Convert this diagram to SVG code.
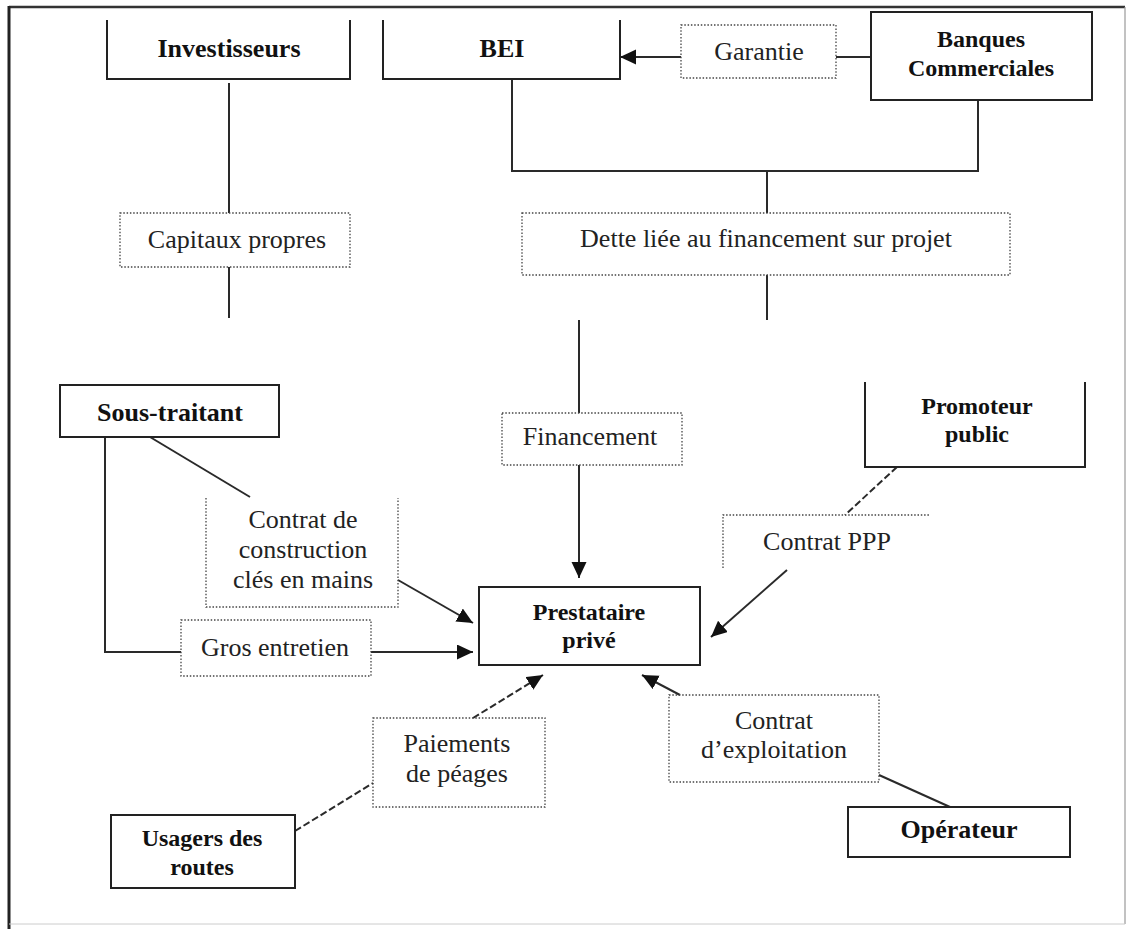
<svg xmlns="http://www.w3.org/2000/svg" width="1129" height="929" viewBox="0 0 1129 929">
<style>
.node{fill:none;stroke:#222;stroke-width:2}
.lbl{fill:none;stroke:#444;stroke-width:1.3;stroke-dasharray:1.5 1.8}
.ln{fill:none;stroke:#2a2a2a;stroke-width:2}
.dash{fill:none;stroke:#2a2a2a;stroke-width:2;stroke-dasharray:7 3}
.tb{font-family:"Liberation Serif","Times New Roman",serif;font-weight:bold;font-size:26px;fill:#111;text-anchor:middle}
.tb2{font-family:"Liberation Serif","Times New Roman",serif;font-weight:bold;font-size:24px;fill:#111;text-anchor:middle}
.tr{font-family:"Liberation Serif","Times New Roman",serif;font-size:26px;fill:#222;text-anchor:middle}
</style>
<defs>
<marker id="ah" markerUnits="userSpaceOnUse" markerWidth="18" markerHeight="16" refX="16" refY="7.5" orient="auto">
<path d="M0,0 L16,7.5 L0,15 z" fill="#111"/>
</marker>
</defs>
<rect x="0" y="0" width="1129" height="929" fill="#fff"/>
<g id="frame">
<line x1="9" y1="7" x2="1125" y2="7" stroke="#333" stroke-width="2.5"/>
<line x1="9" y1="6" x2="9" y2="929" stroke="#222" stroke-width="3"/>
<line x1="1125" y1="7" x2="1125" y2="924" stroke="#999" stroke-width="1.2"/>
<line x1="9" y1="924" x2="1125" y2="924" stroke="#ccc" stroke-width="1"/>
</g>
<g id="connectors">
<line class="ln" x1="229" y1="83" x2="229" y2="213"/>
<line class="ln" x1="229" y1="267" x2="229" y2="318"/>
<polyline class="ln" points="512,79 512,171 978,171 978,100"/>
<line class="ln" x1="767" y1="171" x2="767" y2="213"/>
<line class="ln" x1="767" y1="275" x2="767" y2="320"/>
<line class="ln" x1="836" y1="57" x2="871" y2="57"/>
<line class="ln" x1="681" y1="57" x2="620" y2="57" marker-end="url(#ah)"/>
<line class="ln" x1="579" y1="320" x2="579" y2="413"/>
<line class="ln" x1="579" y1="465" x2="579" y2="578" marker-end="url(#ah)"/>
<polyline class="ln" points="105,437 105,652 181,652"/>
<line class="ln" x1="371" y1="652" x2="473" y2="652" marker-end="url(#ah)"/>
<line class="ln" x1="150" y1="437" x2="250" y2="497"/>
<line class="ln" x1="398" y1="580" x2="473" y2="623" marker-end="url(#ah)"/>
<line class="dash" x1="897" y1="467" x2="845" y2="515"/>
<line class="ln" x1="787" y1="570" x2="711" y2="637" marker-end="url(#ah)"/>
<line class="dash" x1="295" y1="831" x2="373" y2="783"/>
<line class="dash" x1="473" y1="718" x2="543" y2="675" marker-end="url(#ah)"/>
<line class="ln" x1="950" y1="807" x2="879" y2="775"/>
<line class="ln" x1="680" y1="695" x2="642" y2="675" marker-end="url(#ah)"/>
</g>
<g id="investisseurs">
<path class="node" d="M107,20 V79 H350 V20"/>
<text class="tb" x="229" y="57">Investisseurs</text>
</g>
<g id="bei">
<path class="node" d="M383,20 V79 H620 V20"/>
<text class="tb" x="502" y="57">BEI</text>
</g>
<g id="garantie">
<rect class="lbl" x="681" y="25" width="155" height="53"/>
<text class="tr" x="759" y="60">Garantie</text>
</g>
<g id="banques">
<rect class="node" x="871" y="12" width="221" height="88"/>
<text class="tb2" x="981" y="47">Banques</text>
<text class="tb2" x="981" y="76">Commerciales</text>
</g>
<g id="capitaux">
<rect class="lbl" x="120" y="213" width="230" height="54"/>
<text class="tr" x="237" y="248">Capitaux propres</text>
</g>
<g id="dette">
<rect class="lbl" x="522" y="213" width="488" height="62"/>
<text class="tr" x="766" y="247">Dette liée au financement sur projet</text>
</g>
<g id="financement">
<rect class="lbl" x="502" y="413" width="180" height="52"/>
<text class="tr" x="590" y="445">Financement</text>
</g>
<g id="sous-traitant">
<rect class="node" x="60" y="385" width="219" height="52"/>
<text class="tb" x="170" y="421">Sous-traitant</text>
</g>
<g id="promoteur">
<path class="node" d="M865,382 V467 H1085 V382"/>
<text class="tb2" x="977" y="414">Promoteur</text>
<text class="tb2" x="977" y="442">public</text>
</g>
<g id="contrat-construction">
<path class="lbl" d="M206,498 V607 H398 V498"/>
<text class="tr" x="303" y="528">Contrat de</text>
<text class="tr" x="303" y="558">construction</text>
<text class="tr" x="303" y="588">clés en mains</text>
</g>
<g id="contrat-ppp">
<path class="lbl" d="M723,568 V515 H930"/>
<text class="tr" x="827" y="550">Contrat PPP</text>
</g>
<g id="gros-entretien">
<rect class="lbl" x="181" y="620" width="190" height="56"/>
<text class="tr" x="275" y="656">Gros entretien</text>
</g>
<g id="prestataire">
<rect class="node" x="479" y="587" width="221" height="78"/>
<text class="tb2" x="589" y="620">Prestataire</text>
<text class="tb2" x="589" y="648">privé</text>
</g>
<g id="paiements">
<rect class="lbl" x="373" y="718" width="172" height="89"/>
<text class="tr" x="457" y="752">Paiements</text>
<text class="tr" x="457" y="782">de péages</text>
</g>
<g id="contrat-exploitation">
<rect class="lbl" x="669" y="695" width="210" height="87"/>
<text class="tr" x="774" y="729">Contrat</text>
<text class="tr" x="774" y="758">d’exploitation</text>
</g>
<g id="usagers">
<rect class="node" x="111" y="815" width="184" height="73"/>
<text class="tb2" x="202" y="846">Usagers des</text>
<text class="tb2" x="202" y="875">routes</text>
</g>
<g id="operateur">
<rect class="node" x="848" y="807" width="222" height="50"/>
<text class="tb" x="959" y="838">Opérateur</text>
</g>
</svg>
